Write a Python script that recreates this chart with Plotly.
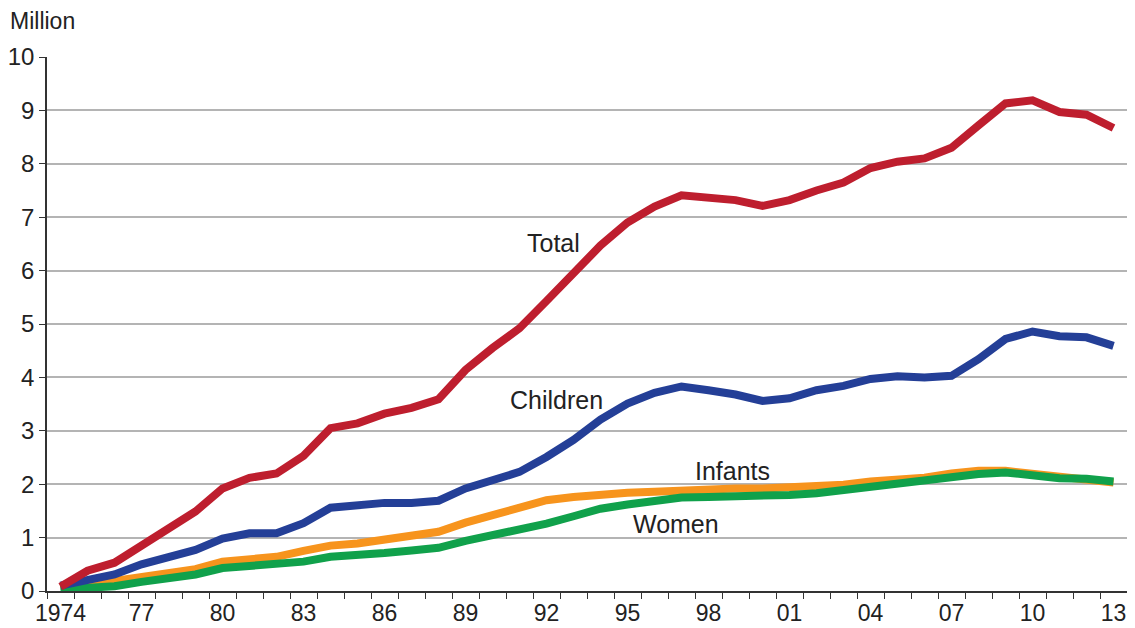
import plotly.graph_objects as go

years = list(range(1974, 2014))

total = [0.08, 0.38, 0.53, 0.85, 1.18, 1.49, 1.92, 2.12, 2.20, 2.53, 3.05, 3.14, 3.32, 3.43, 3.59,
         4.14, 4.55, 4.92, 5.43, 5.95, 6.47, 6.90, 7.20, 7.41, 7.37, 7.32, 7.21, 7.32, 7.50, 7.65,
         7.92, 8.04, 8.10, 8.30, 8.72, 9.13, 9.19, 8.97, 8.92, 8.67]
children = [0.10, 0.21, 0.31, 0.50, 0.64, 0.77, 0.98, 1.08, 1.08, 1.27, 1.56, 1.60, 1.65, 1.65, 1.69,
            1.92, 2.07, 2.23, 2.51, 2.83, 3.21, 3.51, 3.71, 3.83, 3.76, 3.68, 3.56, 3.61, 3.76, 3.84,
            3.97, 4.02, 4.00, 4.03, 4.34, 4.72, 4.86, 4.77, 4.75, 4.59]
infants = [0.05, 0.16, 0.19, 0.26, 0.33, 0.41, 0.55, 0.60, 0.64, 0.75, 0.85, 0.89, 0.97, 1.04, 1.11,
           1.28, 1.43, 1.58, 1.70, 1.76, 1.81, 1.84, 1.86, 1.89, 1.91, 1.92, 1.92, 1.94, 1.95, 1.99,
           2.05, 2.08, 2.12, 2.20, 2.25, 2.25, 2.20, 2.14, 2.09, 2.03]
women = [0.03, 0.07, 0.09, 0.17, 0.24, 0.31, 0.43, 0.46, 0.49, 0.55, 0.64, 0.66, 0.71, 0.76, 0.81,
         0.94, 1.04, 1.14, 1.26, 1.40, 1.54, 1.62, 1.70, 1.75, 1.76, 1.77, 1.77, 1.80, 1.83, 1.89,
         1.96, 2.00, 2.06, 2.13, 2.19, 2.22, 2.16, 2.11, 2.10, 2.05]

tick_years = list(range(1974, 2014, 3))
tick_labels = ["1974", "77", "80", "83", "86", "89", "92", "95", "98", "01", "04", "07", "10", "13"]

series_order = [("Infants", infants, "#f7941d"), ("Women", women, "#10a14b"),
                ("Children", children, "#243f97"), ("Total", total, "#be1e2e")]

label_pos = {"Total": (1992.27, 6.52), "Children": (1992.38, 3.58),
             "Infants": (1998.9, 2.25), "Women": (1996.8, 1.25)}

FONT = "Liberation Sans, Arial, Helvetica, sans-serif"

fig = go.Figure()
for name, vals, color in series_order:
    fig.add_trace(go.Scatter(x=years, y=vals, mode="lines", name=name,
                             line=dict(color=color, width=8), showlegend=False))

for name, (lx, ly) in label_pos.items():
    fig.add_annotation(x=lx, y=ly, text=name, showarrow=False,
                       font=dict(family=FONT, size=25, color="#222222"))

fig.add_annotation(xref="paper", yref="paper", x=-0.0361, y=1.067, xanchor="left",
                   yanchor="middle", text="Million", showarrow=False,
                   font=dict(family=FONT, size=23, color="#222222"))

# page body has an 8px margin, so the figure is sized to fit the 1135x628 window
fig.update_layout(
    width=1127, height=620,
    margin=dict(l=39, r=8, t=49, b=37),
    paper_bgcolor="white", plot_bgcolor="white",
    font=dict(family=FONT, size=23, color="#222222"),
    xaxis=dict(range=[1973.5, 2013.5], tickmode="array", tickvals=tick_years,
               ticktext=tick_labels, ticks="", showgrid=False, zeroline=False,
               automargin=False, ticklabelstandoff=1,
               showline=True, linecolor="#333333", linewidth=1.5,
               tickfont=dict(family=FONT, size=23, color="#222222"),
               minor=dict(tick0=1973.5, dtick=1, ticks="outside", ticklen=6,
                          tickcolor="#333333", tickwidth=1.2, showgrid=False)),
    yaxis=dict(range=[0, 10], tickmode="array", tickvals=list(range(0, 11)),
               ticks="outside", ticklen=6, tickcolor="#333333", tickwidth=1.2,
               automargin=False,
               showgrid=True, gridcolor="#b4b4b4", gridwidth=1.5, zeroline=False,
               showline=True, linecolor="#333333", linewidth=1.5,
               tickfont=dict(family=FONT, size=24, color="#222222")),
)

fig.write_html("out.html")
